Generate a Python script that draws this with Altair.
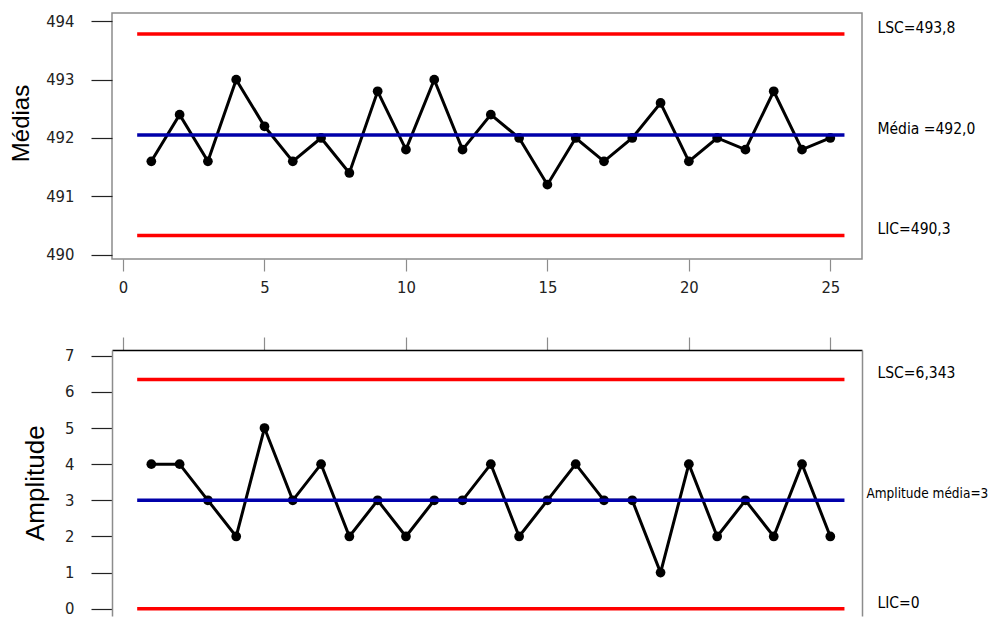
import altair as alt
import pandas as pd

# ---------------- data ----------------
samples = list(range(1, 26))
medias = [491.6, 492.4, 491.6, 493.0, 492.2, 491.6, 492.0, 491.4, 492.8, 491.8,
          493.0, 491.8, 492.4, 492.0, 491.2, 492.0, 491.6, 492.0, 492.6, 491.6,
          492.0, 491.8, 492.8, 491.8, 492.0]
amplitudes = [4, 4, 3, 2, 5, 3, 4, 2, 3, 2, 3, 3, 4, 2, 3, 4, 3, 3, 1, 4,
              2, 3, 2, 4, 2]

xbar_limits = [493.78, 492.05, 490.33]
xbar_labels = ["LSC=493,8", "Média =492,0", "LIC=490,3"]
r_limits = [6.343, 3.0, 0.0]
r_labels = ["LSC=6,343", "Amplitude média=3", "LIC=0"]
limit_kinds = ["limite", "central", "limite"]

x_ticks = [0, 5, 10, 15, 20, 25]
xbar_ticks = [490, 491, 492, 493, 494]
r_ticks = [0, 1, 2, 3, 4, 5, 6, 7]

# ---------------- style ----------------
FONT_NARROW = "DejaVu Sans Condensed, Liberation Sans, sans-serif"
FONT_TITLE = "Liberation Sans, Arial, sans-serif"
GRAY = "#8c8c8c"
W = 750

xscale = alt.Scale(domain=[-0.39, 26.12], nice=False, zero=False)
color_scale = alt.Scale(domain=["limite", "central"], range=["#FF0000", "#0000AA"])


def limits_df(values, labels):
    return pd.DataFrame({
        "valor": values,
        "rotulo": labels,
        "tipo": limit_kinds,
        "x0": [min(samples) - 0.5] * len(values),
        "x1": [max(samples) + 0.5] * len(values),
    })


def y_axis(ticks, title, fsize, tx, ty, domain):
    return alt.Axis(values=ticks, format="d", title=title, grid=False,
                    domain=domain, domainColor=GRAY, domainWidth=1.5,
                    tickColor="#222", tickSize=21, tickWidth=1.2,
                    labelFont=FONT_NARROW, labelFontSize=16.5, labelColor="#222",
                    labelPadding=17, labelFlush=False,
                    titleFont=FONT_TITLE, titleFontSize=fsize, titleFontWeight="normal",
                    titleColor="black", titleAngle=270, titleX=tx, titleY=ty,
                    titleBaseline="middle", titleAlign="center")


def panel_layers(values, lim, yscale, xaxis, yaxis, center_dx, center_size):
    pts = pd.DataFrame({"amostra": samples, "valor": values})
    X = alt.X("amostra:Q", scale=xscale, axis=xaxis)
    Y = alt.Y("valor:Q", scale=yscale, axis=yaxis)
    line = alt.Chart(pts).mark_line(color="black", strokeWidth=3).encode(x=X, y=Y)
    points = alt.Chart(pts).mark_point(filled=True, size=95, color="black",
                                       opacity=1).encode(x=X, y=Y)
    base_lim = alt.Chart(lim)
    rules = base_lim.mark_rule(strokeWidth=3.5).encode(
        x=alt.X("x0:Q", scale=xscale, axis=xaxis), x2="x1:Q",
        y=alt.Y("valor:Q", scale=yscale, axis=yaxis),
        color=alt.Color("tipo:N", scale=color_scale, legend=None))
    txt_kw = dict(align="left", baseline="middle", dy=-6, font=FONT_NARROW,
                  color="black")
    texts_lim = base_lim.transform_filter(alt.datum.tipo == "limite").mark_text(
        dx=33, fontSize=15.5, **txt_kw).encode(
        x=alt.X("x1:Q", scale=xscale, axis=xaxis),
        y=alt.Y("valor:Q", scale=yscale, axis=yaxis), text="rotulo:N")
    texts_cen = base_lim.transform_filter(alt.datum.tipo == "central").mark_text(
        dx=center_dx, fontSize=center_size, **txt_kw).encode(
        x=alt.X("x1:Q", scale=xscale, axis=xaxis),
        y=alt.Y("valor:Q", scale=yscale, axis=yaxis), text="rotulo:N")
    return [line, points, rules, texts_lim, texts_cen]


# ---------------- top panel (médias) ----------------
top_x_axis = alt.Axis(values=x_ticks, format="d", title=None, domain=False, grid=False,
                      tickColor=GRAY, tickWidth=1.2, tickSize=12,
                      labelFont=FONT_NARROW, labelFontSize=16.5, labelColor="#222",
                      labelPadding=8, labelFlush=False)
top_yscale = alt.Scale(domain=[489.926, 494.142], nice=False, zero=False)
top = alt.layer(*panel_layers(
    medias, limits_df(xbar_limits, xbar_labels), top_yscale, top_x_axis,
    y_axis(xbar_ticks, "Médias", 24, -90.7, 110, False), 33, 15.5)
).properties(width=W, height=246,
             view=alt.ViewBackground(stroke=GRAY, strokeWidth=1.5))

# ---------------- bottom panel (amplitudes) ----------------
bot_x_axis = alt.Axis(values=x_ticks, orient="top", title=None, labels=False,
                      domain=True, domainColor="black", domainWidth=1.5, grid=False,
                      tickColor=GRAY, tickWidth=1.2, tickSize=13)
bot_yscale = alt.Scale(domain=[-0.2, 7.158], nice=False, zero=False)
bot_lim = limits_df(r_limits, r_labels)
inner = alt.layer(*panel_layers(
    amplitudes, bot_lim, bot_yscale, bot_x_axis,
    y_axis(r_ticks, "Amplitude", 26, -76.2, 132.7, True), 22, 13.5))
right_border = alt.Chart(bot_lim).mark_rule(opacity=0).encode(
    x=alt.X("x0:Q", scale=xscale, axis=bot_x_axis),
    y=alt.Y("valor:Q", scale=bot_yscale,
            axis=alt.Axis(orient="right", title=None, labels=False, ticks=False,
                          grid=False, domain=True, domainColor=GRAY, domainWidth=1.5)))
bottom = alt.layer(inner, right_border).resolve_axis(y="independent").properties(
    width=W, height=266, view=alt.ViewBackground(stroke=None))

chart = alt.vconcat(top, bottom, spacing=91, bounds="flush").properties(
    padding={"left": 0, "top": 4, "right": 0, "bottom": 0}
).configure_view(stroke=None).configure_axis(grid=False)

chart.save("out.html", embed_options={"renderer": "svg", "actions": False})
